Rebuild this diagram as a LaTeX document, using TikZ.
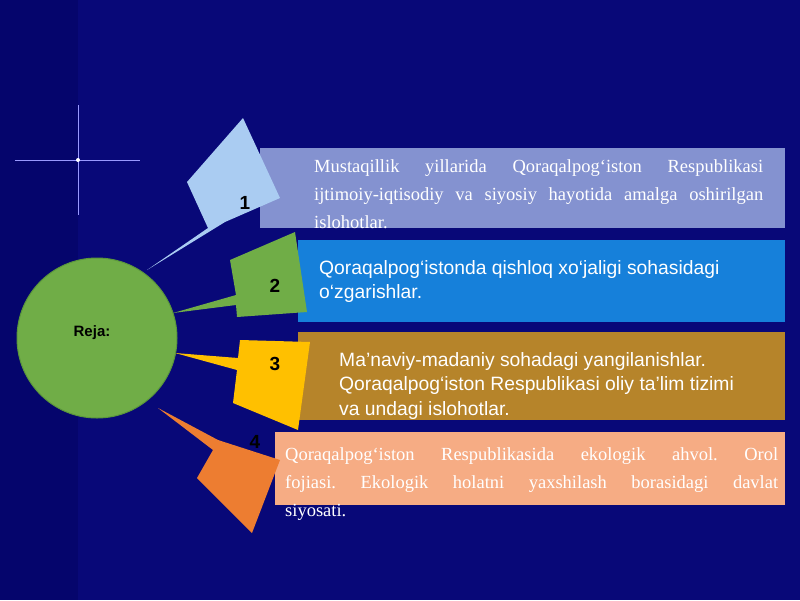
\documentclass[tikz,border=0pt]{standalone}
\usepackage{fontspec}
\setmainfont{Liberation Serif}
\setsansfont{Liberation Sans}
\frenchspacing
\begin{document}
\begin{tikzpicture}[x=1pt, y=-1pt,
    callout/.style={draw=none},
    band/.style={draw=none},
    num/.style={font=\sffamily\bfseries\fontsize{19}{19}\selectfont, text=black},
    serifline/.style={anchor=north west, text=white, align=justify, inner sep=0pt,
      font=\fontsize{18.5}{28}\selectfont},
    sansline/.style={anchor=north west, text=white, align=left, inner sep=0pt,
      font=\sffamily\fontsize{19.3}{24.5}\selectfont}]
    % background
    \fill[fill={rgb,255:red,8;green,8;blue,120}] (0,0) rectangle (800,600);
    \fill[fill={rgb,255:red,5;green,5;blue,108}] (0,0) rectangle (78,600);
    \useasboundingbox (0,0) rectangle (800,600);
    % sparkle
    \draw[white!60!blue, line width=0.8pt] (78,105) -- (78,215);
    \draw[white!60!blue, line width=0.8pt] (15,160) -- (140,160);
    \fill[white] (78,160) circle (2);

    % bands
    \fill[band, fill={rgb,255:red,132;green,146;blue,208}] (260,148) rectangle (785,228);
    \fill[band, fill={rgb,255:red,22;green,128;blue,218}] (298,240) rectangle (785,322);
    \fill[band, fill={rgb,255:red,182;green,132;blue,42}] (298,332) rectangle (785,420);
    \fill[band, fill={rgb,255:red,246;green,172;blue,132}] (275,432) rectangle (785,505);

    % callouts
    \fill[callout, fill={rgb,255:red,170;green,204;blue,242}] (243,118) -- (280,198) -- (225,222) -- (147,270) -- (208,228) -- (187,182) -- cycle;
    \fill[callout, fill={rgb,255:red,112;green,173;blue,71}] (230,260) -- (295,232) -- (307,312) -- (237,317) -- (236,305) -- (173,313) -- (236,295) -- cycle;
    \fill[callout, fill={rgb,255:red,255;green,192;blue,0}] (240,340) -- (310,342) -- (298,430) -- (233,403) -- (237,370) -- (175,353) -- (238,358) -- cycle;
    \fill[callout, fill={rgb,255:red,237;green,125;blue,49}] (218,440) -- (280,460) -- (252,533) -- (197,478) -- (213,450) -- (158,408) -- cycle;

    % centre
    \node[circle, minimum size=160pt, fill={rgb,255:red,112;green,173;blue,71},
      draw={rgb,255:red,90;green,150;blue,60}, line width=1pt] (reja) at (97,338) {};
    \node[font=\sffamily\bfseries\fontsize{15}{15}\selectfont, text=black] (rejat) at (92,333) {Reja:};

    \node[num] (n1) at (245,203) {1};
    \node[num] (n2) at (275,286) {2};
    \node[num] (n3) at (275,364) {3};
    \node[num] (n4) at (255,442) {4};

    % texts
    \node[serifline, text width=449pt] (t1) at (314,159) {Mustaqillik yillarida Qoraqalpog‘iston Respublikasi\linebreak ijtimoiy-iqtisodiy va siyosiy hayotida amalga oshirilgan\linebreak islohotlar.};
    \node[sansline] (t2) at (319,260) {Qoraqalpog‘istonda qishloq xo‘jaligi sohasidagi\\o‘zgarishlar.};
    \node[sansline] (t3) at (339,352) {Ma’naviy-madaniy sohadagi yangilanishlar.\\Qoraqalpog‘iston Respublikasi oliy ta’lim tizimi\\va undagi islohotlar.};
    \node[serifline, text width=493pt] (t4) at (285,447) {Qoraqalpog‘iston Respublikasida ekologik ahvol. Orol\linebreak fojiasi. Ekologik holatni yaxshilash borasidagi davlat\linebreak siyosati.};
\end{tikzpicture}
\end{document}
